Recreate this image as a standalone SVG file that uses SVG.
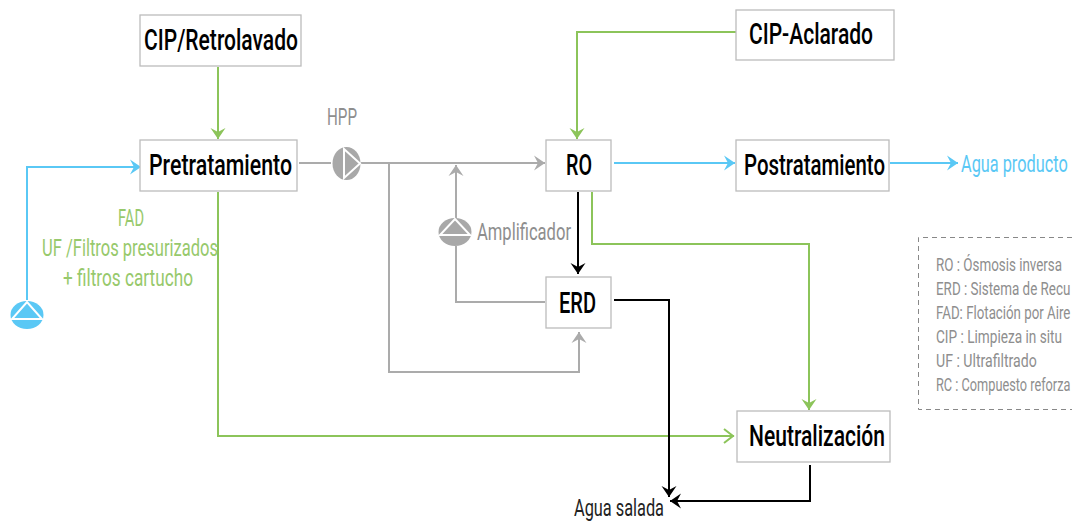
<svg xmlns="http://www.w3.org/2000/svg" width="1072" height="521" viewBox="0 0 1072 521">
<defs>
<style>
text{font-family:"Roboto","Liberation Sans",sans-serif;}
.box{fill:#fff;stroke:#bcbcbc;stroke-width:1.3}
.n{font-size:30px;font-weight:500;fill:#000}
.c{fill:none;stroke-width:2}
.g{stroke:#8cc45a}.b{stroke:#5ac8f5}.y{stroke:#ababab}.k{stroke:#000}
.l{font-size:18px;font-weight:400;fill:#8e8e8e}
.v{font-size:24px;font-weight:400;fill:#97c96c}
.m{font-size:24px;font-weight:400;fill:#8e8e8e}
</style>
<marker id="mg" markerWidth="14" markerHeight="18" refX="11" refY="8" orient="auto" markerUnits="userSpaceOnUse"><path d="M0 0.5 L11 8 L0 15.5 L4 8Z" fill="#8cc45a"/></marker>
<marker id="mo" markerWidth="14" markerHeight="18" refX="11" refY="8" orient="auto" markerUnits="userSpaceOnUse"><path d="M1 1 L10 8 L1 15" fill="none" stroke="#8cc45a" stroke-width="2"/></marker>
<marker id="mb" markerWidth="14" markerHeight="18" refX="11" refY="8" orient="auto" markerUnits="userSpaceOnUse"><path d="M0 0.5 L11 8 L0 15.5 L4 8Z" fill="#5ac8f5"/></marker>
<marker id="my" markerWidth="14" markerHeight="18" refX="11" refY="8" orient="auto" markerUnits="userSpaceOnUse"><path d="M0 0.5 L11 8 L0 15.5 L4 8Z" fill="#ababab"/></marker>
<marker id="mk" markerWidth="14" markerHeight="18" refX="11" refY="8" orient="auto" markerUnits="userSpaceOnUse"><path d="M0 0.5 L11 8 L0 15.5 L4 8Z" fill="#000"/></marker>
</defs>
<rect width="1072" height="521" fill="#fff"/>
<g id="connectors">
<path class="c g" d="M218 67V139" marker-end="url(#mg)"/>
<path class="c b" d="M27 300V167H141" marker-end="url(#mb)"/>
<path class="c g" d="M218 192V436H734" marker-end="url(#mo)"/>
<path class="c y" d="M299 163H331"/>
<path class="c y" d="M361 163H545" marker-end="url(#my)"/>
<path class="c y" d="M389 163V372H579V332" marker-end="url(#my)"/>
<path class="c y" d="M545 302H456V246"/>
<path class="c y" d="M456 218V165" marker-end="url(#my)"/>
<path class="c g" d="M736 32H577V139" marker-end="url(#mg)"/>
<path class="c b" d="M614 163H735" marker-end="url(#mb)"/>
<path class="c b" d="M890 163H958" marker-end="url(#mb)"/>
<path class="c g" d="M592 192V244H809V410" marker-end="url(#mg)"/>
<path class="c k" d="M578 192V274" marker-end="url(#mk)"/>
<path class="c k" d="M614 300H669V497" marker-end="url(#mk)"/>
<path class="c k" d="M810 465V501H670" marker-end="url(#mk)"/>
</g>
<g id="cip-retrolavado"><rect class="box" x="140" y="15" width="161" height="51"/><text class="n" x="144" y="50" textLength="154" lengthAdjust="spacingAndGlyphs">CIP/Retrolavado</text></g>
<g id="cip-aclarado"><rect class="box" x="736" y="10" width="158" height="50"/><text class="n" x="749" y="44" textLength="124" lengthAdjust="spacingAndGlyphs">CIP-Aclarado</text></g>
<g id="pretratamiento"><rect class="box" x="140" y="140" width="157" height="51"/><text class="n" x="149" y="175" textLength="143" lengthAdjust="spacingAndGlyphs">Pretratamiento</text></g>
<g id="ro"><rect class="box" x="546" y="140" width="65" height="51"/><text class="n" x="566" y="175" textLength="26" lengthAdjust="spacingAndGlyphs">RO</text></g>
<g id="postratamiento"><rect class="box" x="736" y="140" width="153" height="51"/><text class="n" x="744" y="175" textLength="141" lengthAdjust="spacingAndGlyphs">Postratamiento</text></g>
<g id="erd"><rect class="box" x="546" y="277" width="65" height="51"/><text class="n" x="559" y="313" textLength="37" lengthAdjust="spacingAndGlyphs">ERD</text></g>
<g id="neutralizacion"><rect class="box" x="737" y="411" width="153" height="51"/><text class="n" x="749" y="446" textLength="136" lengthAdjust="spacingAndGlyphs">Neutralización</text></g>
<g id="hpp">
<ellipse cx="346.5" cy="163.5" rx="14" ry="16.5" fill="#a8a8a8"/>
<path d="M344 149V178L360 163.5Z" fill="#a8a8a8" stroke="#fff" stroke-width="2"/>
<text class="m" x="327" y="125" textLength="30" lengthAdjust="spacingAndGlyphs">HPP</text>
</g>
<g id="amplificador">
<ellipse cx="455" cy="232" rx="16.5" ry="14" fill="#a8a8a8"/>
<path d="M440 235H470L455 219Z" fill="#a8a8a8" stroke="#fff" stroke-width="2"/>
<text class="m" x="477" y="240" textLength="94" lengthAdjust="spacingAndGlyphs">Amplificador</text>
</g>
<g id="intake">
<ellipse cx="27" cy="315" rx="16.5" ry="14" fill="#5ac8f5"/>
<path d="M12 319H42L27 302Z" fill="#5ac8f5" stroke="#fff" stroke-width="2"/>
</g>
<g id="labels">
<text class="v" x="118" y="226" textLength="26" lengthAdjust="spacingAndGlyphs">FAD</text>
<text class="v" x="42" y="256" textLength="176" lengthAdjust="spacingAndGlyphs">UF /Filtros presurizados</text>
<text class="v" x="63" y="286" textLength="130" lengthAdjust="spacingAndGlyphs">+ filtros cartucho</text>
<text transform="translate(961 172) scale(.68 1)" x="0" y="0" style="font-size:24px;font-weight:400;fill:#5ac8f5" textLength="157" lengthAdjust="spacingAndGlyphs">Agua producto</text>
<text x="574" y="516" style="font-size:24px;font-weight:400;fill:#222" textLength="90" lengthAdjust="spacingAndGlyphs">Agua salada</text>
</g>
<g id="legend">
<path d="M1072 237.5H918.5V409.5H1072" fill="none" stroke="#888" stroke-width="1" stroke-dasharray="5 4"/>
<g transform="translate(936 0) scale(.7 1)">
<text class="l" x="0" y="271" textLength="180" lengthAdjust="spacingAndGlyphs">RO : Ósmosis inversa</text>
<text class="l" x="0" y="295" textLength="192" lengthAdjust="spacingAndGlyphs">ERD : Sistema de Recu</text>
<text class="l" x="0" y="319" textLength="192" lengthAdjust="spacingAndGlyphs">FAD: Flotación por Aire</text>
<text class="l" x="0" y="343" textLength="180" lengthAdjust="spacingAndGlyphs">CIP : Limpieza in situ</text>
<text class="l" x="0" y="367" textLength="144" lengthAdjust="spacingAndGlyphs">UF : Ultrafiltrado</text>
<text class="l" x="0" y="391" textLength="192" lengthAdjust="spacingAndGlyphs">RC : Compuesto reforza</text>
</g>
</g>
</svg>
